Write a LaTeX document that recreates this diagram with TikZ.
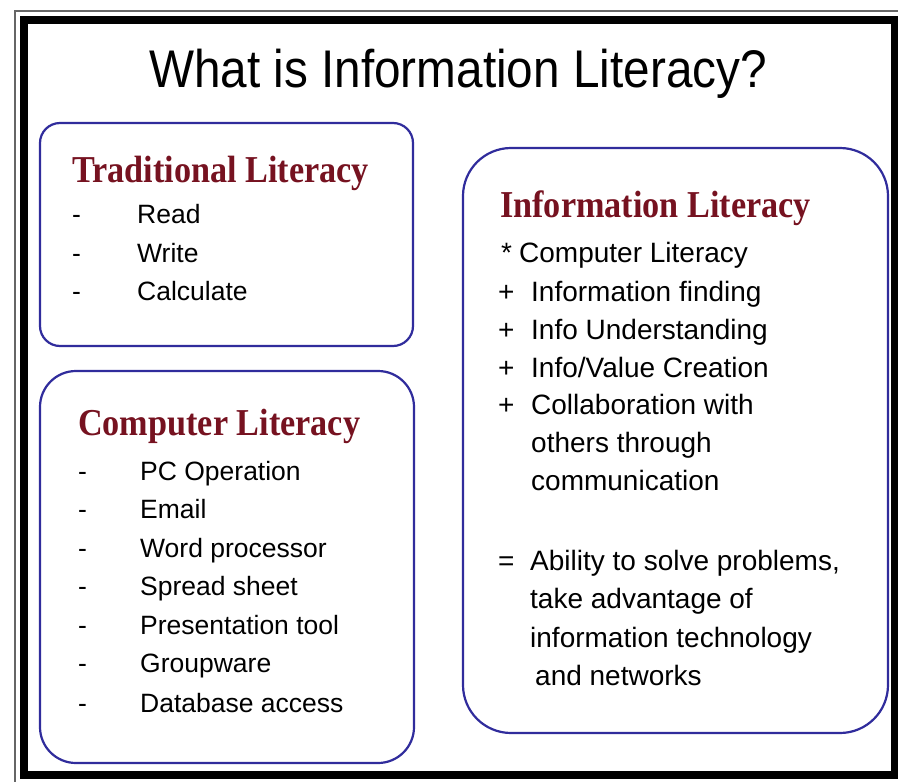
\documentclass[tikz,border=0pt]{standalone}
\usepackage{fontspec}
\setmainfont{Liberation Sans}
\newfontfamily\titlefont{Liberation Sans}[FakeStretch=0.9]
\newfontfamily\headfont{Liberation Serif}[FakeStretch=0.9]
\definecolor{boxblue}{RGB}{48,44,156}
\definecolor{headred}{RGB}{118,18,32}

\begin{document}
\begin{tikzpicture}[x=1pt,y=-1pt,
    panel/.style={draw=boxblue,line width=2.2pt},
    head/.style={anchor=base west,inner sep=0pt,text=headred,font=\headfont\bfseries\fontsize{38}{40}\selectfont},
    item/.style={anchor=base west,inner sep=0pt,font=\fontsize{26.5}{30}\selectfont},
    info/.style={anchor=base west,inner sep=0pt,font=\fontsize{28}{32}\selectfont}]
        \useasboundingbox (0,0) rectangle (898,782);
        \fill[white] (0,0) rectangle (898,782);
        \draw[black!60,line width=1.2pt] (15,11) rectangle (910,795);
        \draw[black,line width=8pt] (23.5,20) rectangle (895,775);
        \node[anchor=base,inner sep=0pt,font=\titlefont\fontsize{53}{56}\selectfont] (title) at (458,87) {What is Information Literacy?};

        \draw[panel,rounded corners=20pt] (40,123) rectangle (413,346);
        \draw[panel,rounded corners=36pt] (40,371) rectangle (414,763);
        \draw[panel,rounded corners=48pt] (463,148) rectangle (888,733);

        \node[head] (T) at (72,182) {Traditional Literacy};
        \node[item] (dT1) at (72,223) {-};
        \node[item] (dT2) at (72,262) {-};
        \node[item] (dT3) at (72,300) {-};
        \node[item] (T1) at (137,223) {Read};
        \node[item] (T2) at (137,262) {Write};
        \node[item] (T3) at (137,300) {Calculate};

        \node[head] (C) at (78,435) {Computer Literacy};
        \node[item] (dC1) at (78,480) {-};
        \node[item] (dC2) at (78,518.5) {-};
        \node[item] (dC3) at (78,557) {-};
        \node[item] (dC4) at (78,595.5) {-};
        \node[item] (dC5) at (78,634) {-};
        \node[item] (dC6) at (78,672.5) {-};
        \node[item] (dC7) at (78,712) {-};
        \node[item] (C1) at (140,480) {PC Operation};
        \node[item] (C2) at (140,518.5) {Email};
        \node[item] (C3) at (140,557) {Word processor};
        \node[item] (C4) at (140,595.5) {Spread sheet};
        \node[item] (C5) at (140,634) {Presentation tool};
        \node[item] (C6) at (140,672.5) {Groupware};
        \node[item] (C7) at (140,712) {Database access};

        \node[head] (I) at (500,217) {Information Literacy};
        \node[info] (sI1) at (501,262) {*};
        \node[info] (sI2) at (498,301) {+};
        \node[info] (sI3) at (498,339) {+};
        \node[info] (sI4) at (498,377) {+};
        \node[info] (sI5) at (498,414) {+};
        \node[info] (sI6) at (498,570) {=};
        \node[info] (I1) at (519,262) {Computer Literacy};
        \node[info] (I2) at (531,301) {Information finding};
        \node[info] (I3) at (531,339) {Info Understanding};
        \node[info] (I4) at (531,377) {Info/Value Creation};
        \node[info] (I5) at (531,414) {Collaboration with};
        \node[info] (I6) at (531,452) {others through};
        \node[info] (I7) at (531,490) {communication};
        \node[info] (I8) at (530,570) {Ability to solve problems,};
        \node[info] (I9) at (530,608) {take advantage of};
        \node[info] (I10) at (530,647) {information technology};
        \node[info] (I11) at (535,685) {and networks};
      \end{tikzpicture}
\end{document}
